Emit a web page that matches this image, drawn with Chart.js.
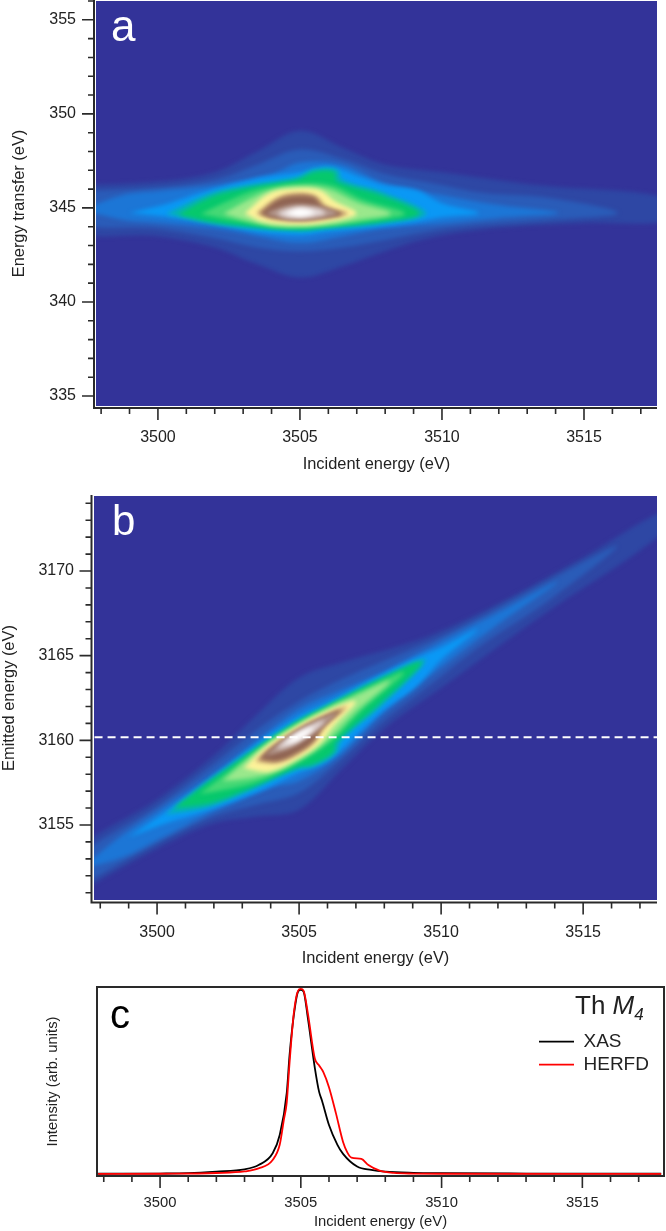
<!DOCTYPE html>
<html>
<head>
<meta charset="utf-8">
<script src="https://cdn.jsdelivr.net/npm/chart.js@4"></script>
<style>
  html, body { margin: 0; background: #fff; }
  body { position: relative; width: 666px; height: 1231px; overflow: hidden; font-family: "Liberation Sans", Arial, sans-serif; }
  canvas { position: absolute; left: 0; }
  .tag { position: absolute; line-height: 1; }
</style>
</head>
<body>
<canvas id="chartA" width="666" height="480" style="top:0"></canvas>
<canvas id="chartB" width="666" height="495" style="top:480px"></canvas>
<canvas id="chartC" width="666" height="256" style="top:975px"></canvas>
<span class="tag" style="left:111px;top:4px;font-size:44px;color:#fff">a</span>
<span class="tag" style="left:112px;top:500px;font-size:42px;color:#fff">b</span>
<span class="tag" style="left:110px;top:994px;font-size:40px;color:#000">c</span>
<span class="tag" style="left:575px;top:992px;font-size:26px;color:#222">Th <i>M<sub style="font-size:17px;line-height:0">4</sub></i></span>
<script>
// colours of the intensity levels, outermost first
const levelColours = ["#2e47a4", "#2a5cb8", "#1c76d6", "#0a98f5", "#05b2b4", "#06c86c", "#45d875",
  "#9ae88c", "#fdf29a", "#c6a070", "#8f6352", "#b59a90", "#e4dada", "#ffffff"];
const baseColour = "#333399";

// panel a: contours [incident eV, energy transfer eV]
const a1 = [[3497,346.2],[3500,346.4],[3502,346.9],[3503.5,348],[3505,349.1],[3506.5,348.2],[3508,347.3],[3510,346.9],[3513.4,346.2],[3518,345.5],[3518,344.35],[3515,344.2],[3512,343.94],[3509.7,343.45],[3508,342.7],[3506.5,341.9],[3505,341.3],[3503.5,342],[3502,342.9],[3500,343.5],[3497,343.8]];
const a2 = [[3497,345.85],[3500,346.1],[3502,346.5],[3503.5,347.3],[3505,348.1],[3506.5,347.6],[3508,346.8],[3509.7,346.3],[3511.4,345.8],[3513.8,345.53],[3516.2,344.73],[3513.8,344.36],[3511.4,344.1],[3509.7,343.8],[3508,343.3],[3506.5,342.9],[3505,342.7],[3503.5,342.9],[3502,343.4],[3500,343.9],[3497,344.25]];
const a3 = [[3497.3,344.9],[3498.8,345.7],[3500,345.9],[3502,346.2],[3504,346.8],[3505,347.4],[3506.5,347.3],[3508,346.3],[3510.3,345.6],[3512,345.15],[3514.1,344.73],[3512,344.47],[3510.3,344.2],[3508,343.9],[3506.5,343.5],[3505,343.15],[3503.5,343.5],[3502,343.9],[3500,344.2],[3498.8,344.36]];
const a4 = [[3499,344.73],[3500.4,345.25],[3501.5,345.8],[3503.6,346.6],[3505,346.9],[3506,347.2],[3507.2,346.6],[3508,346.2],[3509.1,345.95],[3510,345.25],[3511.3,344.73],[3510,344.5],[3509.1,344.25],[3508,344.05],[3506,343.75],[3505,343.55],[3503.6,343.7],[3502.3,344.1],[3500.4,344.5]];
const a5 = [[3500.3,344.68],[3501.8,345.75],[3503.1,346.2],[3504.9,346.65],[3505.5,347.05],[3506.3,347.05],[3506.5,346.5],[3507.9,345.85],[3509.45,344.7],[3507.9,344.15],[3506,343.88],[3505,343.75],[3503.1,343.92],[3501.8,344.2]];
const a6 = [[3500.7,344.65],[3501.9,345.6],[3503.1,346.05],[3504.9,346.5],[3505.5,346.9],[3506.2,346.9],[3506.3,346.4],[3507.8,345.7],[3509.2,344.7],[3507.8,344.25],[3506,344],[3505,343.85],[3503.1,344.05],[3501.9,344.25]];
const a7 = [[3501.5,344.68],[3502.6,345.45],[3503.6,346],[3505,346.3],[3506.1,346.2],[3507.2,345.45],[3508.7,344.7],[3507.4,344.3],[3506,344.07],[3505,343.98],[3504,344.03],[3502.8,344.3]];
const a8 = [[3502.3,344.7],[3503.2,345.45],[3504,345.95],[3505,346.15],[3506,346],[3507,345.3],[3508.2,344.7],[3507,344.35],[3506,344.1],[3505,344],[3504,344.05],[3503.2,344.3]];
const a9 = [[3503.05,344.7],[3503.95,345.8],[3504.9,346.05],[3505.7,345.95],[3506.2,345.4],[3507,344.7],[3506,344.25],[3504.9,344.1],[3503.7,344.25]];
const a10 = [[3503.45,344.7],[3504.2,345.55],[3504.9,345.8],[3505.55,345.65],[3505.95,345.1],[3506.7,344.7],[3505.9,344.45],[3505,344.3],[3503.95,344.45]];
const a11 = [[3503.6,344.7],[3504.25,345.45],[3504.9,345.65],[3505.5,345.55],[3505.8,345.05],[3506.5,344.68],[3505.8,344.45],[3505,344.35],[3504,344.48]];
const a12 = [[3503.8,344.72],[3504.5,345.1],[3505,345.2],[3505.6,345.1],[3506.3,344.72],[3505.7,344.46],[3505,344.38],[3504.4,344.44]];
const a13 = [[3504.2,344.72],[3504.6,344.95],[3505,345.05],[3505.6,344.95],[3505.9,344.72],[3505.5,344.55],[3505,344.48],[3504.5,344.52]];
const a14 = [[3504.5,344.72],[3505,344.95],[3505.5,344.75],[3505,344.55]];
const contoursA = [a1, a2, a3, a4, a5, a6, a7, a8, a9, a10, a11, a12, a13, a14];

// panel b: contours [incident eV, emitted eV]
const b1 = [[3497,3150.8],[3500,3153.6],[3502,3155.1],[3503.5,3155.5],[3505,3155.9],[3506.5,3158.3],[3508,3160.7],[3510,3163.1],[3513.4,3167.2],[3518,3172.5],[3518,3173.65],[3515,3170.8],[3512,3168.06],[3509.7,3166.25],[3508,3165.3],[3506.5,3164.6],[3505,3163.7],[3503.5,3161.5],[3502,3159.1],[3500,3156.5],[3497,3153.2]];
const b2 = [[3497,3151.15],[3500,3153.9],[3502,3155.5],[3503.5,3156.2],[3505,3156.9],[3506.5,3158.9],[3508,3161.2],[3509.7,3163.4],[3511.4,3165.6],[3513.8,3168.27],[3516.2,3171.47],[3513.8,3169.44],[3511.4,3167.3],[3509.7,3165.9],[3508,3164.7],[3506.5,3163.6],[3505,3162.3],[3503.5,3160.6],[3502,3158.6],[3500,3156.1],[3497,3152.75]];
const b3 = [[3497.3,3152.4],[3498.8,3153.1],[3500,3154.1],[3502,3155.8],[3504,3157.2],[3505,3157.6],[3506.5,3159.2],[3508,3161.7],[3510.3,3164.7],[3512,3166.85],[3514.1,3169.37],[3512,3167.53],[3510.3,3166.1],[3508,3164.1],[3506.5,3163],[3505,3161.85],[3503.5,3160],[3502,3158.1],[3500,3155.8],[3498.8,3154.44]];
const b4 = [[3499,3154.27],[3500.4,3155.15],[3501.5,3155.7],[3503.6,3157],[3505,3158.1],[3506,3158.8],[3507.2,3160.6],[3508,3161.8],[3509.1,3163.15],[3510,3164.75],[3511.3,3166.57],[3510,3165.5],[3509.1,3164.85],[3508,3163.95],[3506,3162.25],[3505,3161.45],[3503.6,3159.9],[3502.3,3158.2],[3500.4,3155.9]];
const b5 = [[3500.3,3155.62],[3501.8,3156.05],[3503.1,3156.9],[3504.9,3158.25],[3505.5,3158.45],[3506.3,3159.25],[3506.5,3160],[3507.9,3162.05],[3509.45,3164.75],[3507.9,3163.75],[3506,3162.12],[3505,3161.25],[3503.1,3159.18],[3501.8,3157.6]];
const b6 = [[3500.6,3156],[3501.9,3156.3],[3503.1,3157.05],[3504.9,3158.4],[3505.5,3158.6],[3506.2,3159.3],[3506.3,3159.9],[3507.8,3162.1],[3509.3,3164.6],[3507.8,3163.55],[3506,3162],[3505,3161.15],[3503.1,3159.05],[3501.9,3157.65]];
const b7 = [[3501.5,3156.82],[3502.6,3157.15],[3503.6,3157.6],[3505,3158.7],[3506.1,3159.9],[3507.2,3161.75],[3508.7,3164],[3507.4,3163.1],[3506,3161.93],[3505,3161.02],[3504,3159.97],[3502.8,3158.5]];
const b8 = [[3502.3,3157.6],[3503.2,3157.75],[3504,3158.05],[3505,3158.85],[3506,3160],[3507,3161.7],[3508.2,3163.5],[3507,3162.65],[3506,3161.9],[3505,3161],[3504,3159.95],[3503.2,3158.9]];
const b9 = [[3503.05,3158.35],[3503.95,3158.15],[3504.9,3158.85],[3505.7,3159.75],[3506.2,3160.8],[3507,3162.3],[3506,3161.75],[3504.9,3160.8],[3503.7,3159.45]];
const b10 = [[3503.45,3158.75],[3504.2,3158.65],[3504.9,3159.1],[3505.55,3159.9],[3505.95,3160.85],[3506.7,3162],[3505.9,3161.45],[3505,3160.7],[3503.95,3159.5]];
const b11 = [[3503.6,3158.9],[3504.25,3158.8],[3504.9,3159.25],[3505.5,3159.95],[3505.8,3160.75],[3506.5,3161.82],[3505.8,3161.35],[3505,3160.65],[3504,3159.52]];
const b12 = [[3503.8,3159.08],[3504.5,3159.4],[3505,3159.8],[3505.6,3160.5],[3506.3,3161.58],[3505.7,3161.24],[3505,3160.62],[3504.4,3159.96]];
const b13 = [[3504.2,3159.48],[3504.6,3159.65],[3505,3159.95],[3505.6,3160.65],[3505.9,3161.18],[3505.5,3160.95],[3505,3160.52],[3504.5,3159.98]];
const b14 = [[3504.5,3159.78],[3505,3160.05],[3505.5,3160.75],[3505,3160.45]];
const contoursB = [b1, b2, b3, b4, b5, b6, b7, b8, b9, b10, b11, b12, b13, b14];

// dashed cut through panel b
const cutEnergy = 3160.18;

// panel c: spectra
const xasEnergy = [3497.8,3500,3501,3502,3503,3503.5,3504,3504.25,3504.5,3504.6,3504.75,3504.9,3505,3505.1,3505.25,3505.5,3505.65,3505.75,3506,3506.3,3506.5,3507,3507.5,3508,3509,3510,3513,3517.8];
const xasIntensity = [0.012,0.013,0.015,0.023,0.035,0.058,0.12,0.217,0.44,0.64,0.85,0.975,0.985,0.975,0.835,0.57,0.445,0.4,0.27,0.165,0.117,0.05,0.032,0.023,0.017,0.015,0.013,0.012];
const herfdEnergy = [3497.8,3500,3502,3503,3503.5,3504,3504.25,3504.4,3504.5,3504.6,3504.75,3504.9,3505,3505.1,3505.25,3505.5,3505.65,3505.8,3506,3506.25,3506.5,3506.65,3506.8,3507.15,3507.4,3507.8,3508.3,3509,3510,3517.8];
const herfdIntensity = [0.011,0.012,0.016,0.024,0.04,0.085,0.165,0.3,0.39,0.6,0.86,0.98,0.99,0.98,0.86,0.62,0.585,0.55,0.47,0.33,0.18,0.125,0.097,0.09,0.058,0.028,0.016,0.013,0.012,0.011];

const tickColour = "#2a2a2a";
const textColour = "#222";

// tick marks and axis lines, long on multiples of 5
const axisMarks = {
  id: "axisMarks",
  afterLayout(chart) {
    const o = chart.options.plugins.axisMarks;
    if (o.legendLeft) chart.legend.left = o.legendLeft;
  },
  beforeDatasetsDraw(chart) {
    const o = chart.options.plugins.axisMarks;
    const ctx = chart.ctx;
    const area = chart.chartArea;
    if (o.blur) {
      ctx.save();
      ctx.fillStyle = baseColour;
      ctx.fillRect(area.left, area.top, area.right - area.left, area.bottom - area.top);
      ctx.restore();
      ctx.filter = "blur(" + o.blur + "px)"; // soften the contour steps
    }
  },
  beforeDatasetDraw(chart, args) {
    if (!chart.data.datasets[args.index].contour) chart.ctx.filter = "none";
  },
  afterDatasetsDraw(chart) {
    chart.ctx.filter = "none";
  },
  afterDraw(chart) {
    const o = chart.options.plugins.axisMarks;
    const ctx = chart.ctx;
    const area = chart.chartArea;
    const left = area.left - o.gap;
    const bottom = area.bottom + o.gap;
    ctx.save();
    ctx.strokeStyle = tickColour;
    ctx.lineWidth = 2;
    ctx.beginPath();
    if (o.frame) {
      ctx.rect(area.left, area.top, area.right - area.left, area.bottom - area.top);
    } else {
      ctx.moveTo(left, area.top - 1);
      ctx.lineTo(left, bottom);
      ctx.lineTo(area.right, bottom);
    }
    ctx.stroke();
    ctx.lineWidth = 1.6;
    ctx.beginPath();
    chart.scales.x.ticks.forEach(t => {
      const px = chart.scales.x.getPixelForValue(t.value);
      ctx.moveTo(px, bottom);
      ctx.lineTo(px, bottom + (t.value % 5 === 0 ? 12 : 6));
    });
    if (!o.frame) {
      chart.scales.y.ticks.forEach(t => {
        const py = chart.scales.y.getPixelForValue(t.value);
        ctx.moveTo(left, py);
        ctx.lineTo(left - (t.value % 5 === 0 ? 12 : 6), py);
      });
    }
    ctx.stroke();
    ctx.restore();
  }
};

function toPoints(pairs) {
  const pts = pairs.map(p => ({ x: p[0], y: p[1] }));
  pts.push(pts[0]); // close the ring
  return pts;
}

// innermost first: Chart.js paints the first dataset last
function contourSets(rings) {
  return rings.map((ring, i) => ({
    contour: true,
    data: toPoints(ring),
    showLine: true,
    fill: "shape",
    backgroundColor: levelColours[i],
    borderWidth: 0,
    pointRadius: 0,
    tension: 0.35
  })).reverse();
}

function fiveLabel(v) {
  return v % 5 === 0 ? String(v) : "";
}

function noScalePadding(s) {
  s.paddingTop = s.paddingBottom = s.paddingLeft = s.paddingRight = 0;
}

function makeChart(id, datasets, opt) {
  return new Chart(document.getElementById(id), {
    type: "scatter",
    data: { datasets: datasets },
    plugins: [axisMarks],
    options: {
      responsive: false,
      animation: false,
      layout: { autoPadding: false, padding: { top: opt.top, right: 666 - opt.right, left: 0, bottom: 0 } },
      plugins: {
        legend: opt.legend || { display: false },
        tooltip: { enabled: false },
        axisMarks: { gap: opt.gap, frame: opt.frame, blur: opt.blur, legendLeft: opt.legendLeft }
      },
      scales: {
        x: {
          type: "linear",
          min: opt.xMin,
          max: opt.xMax,
          afterFit: s => { s.height = opt.xHeight; noScalePadding(s); },
          grid: { display: false, tickLength: 12 },
          border: { display: false },
          ticks: {
            stepSize: 1, autoSkip: false, maxRotation: 0, includeBounds: false,
            padding: opt.xPad, color: textColour,
            font: { family: "Liberation Sans", size: opt.tickSize },
            callback: fiveLabel
          },
          title: {
            display: true, text: "Incident energy (eV)", color: textColour,
            font: { family: "Liberation Sans", size: opt.titleSize },
            padding: { top: 0, bottom: opt.xTitlePad }
          }
        },
        y: {
          type: "linear",
          min: opt.yMin,
          max: opt.yMax,
          afterFit: s => { s.width = opt.left; noScalePadding(s); },
          grid: { display: false, tickLength: 12 },
          border: { display: false },
          ticks: {
            display: !opt.frame,
            stepSize: 1, autoSkip: false, includeBounds: false,
            padding: 8, color: textColour,
            font: { family: "Liberation Sans", size: opt.tickSize },
            callback: fiveLabel
          },
          title: {
            display: true, text: opt.yTitle, color: textColour,
            font: { family: "Liberation Sans", size: opt.titleSize },
            padding: { top: opt.yTitlePad, bottom: 0 }
          }
        }
      }
    }
  });
}

makeChart("chartA", contourSets(contoursA), {
  top: 1, left: 96, right: 657, xHeight: 74, xPad: 10, xTitlePad: 6, yTitlePad: 10, gap: 2, blur: 2,
  xMin: 3497.82, xMax: 3517.57, yMin: 334.47, yMax: 356,
  tickSize: 16, titleSize: 16.4, yTitle: "Energy transfer (eV)"
});

const cutLine = {
  data: [{ x: 3497.8, y: cutEnergy }, { x: 3517.6, y: cutEnergy }],
  showLine: true, fill: false, borderColor: "#ffffff", borderWidth: 2,
  borderDash: [8, 5], pointRadius: 0
};
makeChart("chartB", [cutLine].concat(contourSets(contoursB)), {
  top: 16, left: 94, right: 657, xHeight: 75, xPad: 11, xTitlePad: 7, yTitlePad: 0, gap: 2.5, blur: 2,
  xMin: 3497.78, xMax: 3517.6, yMin: 3150.57, yMax: 3174.43,
  tickSize: 16, titleSize: 16.4, yTitle: "Emitted energy (eV)"
});

function spectrum(label, xs, ys, colour) {
  return {
    label: label,
    data: xs.map((x, i) => ({ x: x, y: ys[i] })),
    showLine: true, fill: false, pointRadius: 0,
    borderColor: colour, backgroundColor: colour, borderWidth: 1.8,
    cubicInterpolationMode: "monotone"
  };
}
// red goes on top of black, so it comes first; the legend is reversed
makeChart("chartC", [
  spectrum("HERFD", herfdEnergy, herfdIntensity, "#ff0000"),
  spectrum("XAS", xasEnergy, xasIntensity, "#000000")
], {
  top: 12, left: 97, right: 664, xHeight: 55, xPad: 6.5, xTitlePad: 0, yTitlePad: 44, gap: 0, frame: true,
  xMin: 3497.76, xMax: 3517.9, yMin: 0, yMax: 1,
  tickSize: 14.8, titleSize: 14.8, yTitle: "Intensity (arb. units)",
  legendLeft: 535,
  legend: {
    display: true, position: "chartArea", align: "start", reverse: true,
    title: { display: true, text: " ", font: { size: 1 }, padding: { top: 52, bottom: 0 } },
    labels: { boxWidth: 35, boxHeight: 0, padding: 4, color: textColour,
      font: { family: "Liberation Sans", size: 19 } }
  }
});
</script>
</body>
</html>
